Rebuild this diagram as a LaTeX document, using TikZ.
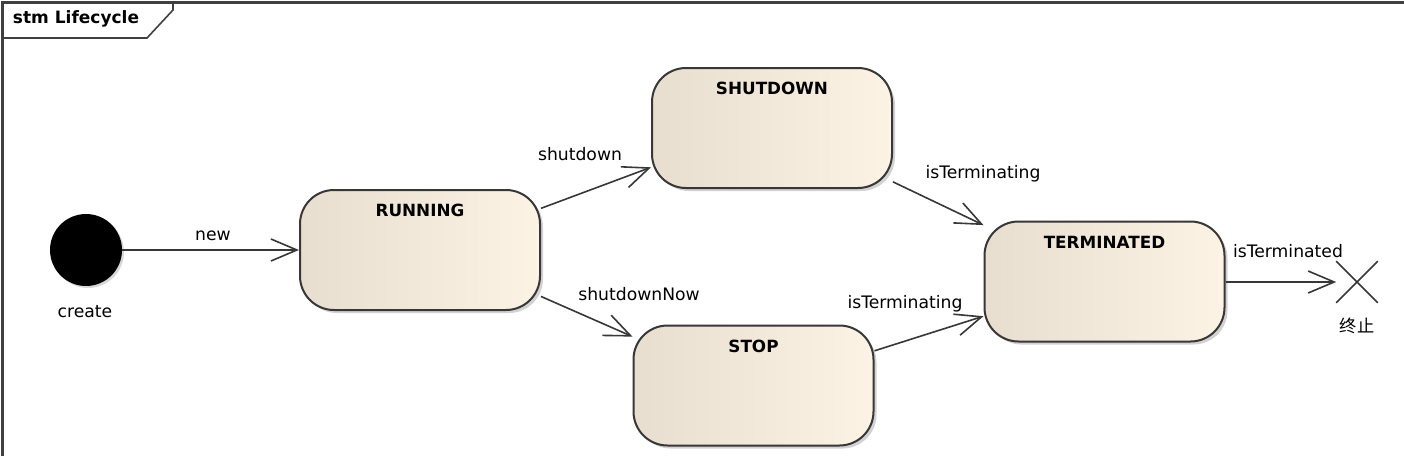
\documentclass[tikz,border=0pt]{standalone}
\usepackage{fontspec}
\setmainfont{DejaVu Sans}
\newfontfamily\cjkfont{Noto Sans CJK SC}
\usetikzlibrary{arrows.meta, shapes.misc, shadows, positioning}

\definecolor{stateleft}{RGB}{232,222,208}
\definecolor{stateright}{RGB}{252,243,229}
\definecolor{lineclr}{RGB}{55,55,55}

\tikzset{
    statebox/.style={rectangle, rounded corners=17pt, draw=lineclr, line width=1pt,
        minimum width=120pt, minimum height=60pt, inner sep=0pt,
        left color=stateleft, right color=stateright,
        drop shadow={shadow xshift=1.5pt, shadow yshift=-1.5pt, fill=black!35, opacity=.5}},
    title/.style={anchor=north, yshift=-4.2pt, font=\fontsize{8.4}{10}\selectfont\bfseries},
    initstate/.style={circle, fill=black, minimum size=36pt, inner sep=0pt,
        drop shadow={shadow xshift=1pt, shadow yshift=-1pt, fill=black!30, opacity=.5}},
    finalstate/.style={cross out, draw=lineclr, line width=0.8pt, minimum size=20pt, inner sep=0pt},
    lbl/.style={font=\fontsize{8.6}{10}\selectfont, text=black, inner sep=0pt},
    trans/.style={draw=lineclr, line width=0.8pt, -{Straight Barb[length=13pt, width=11pt, line width=0.8pt]}},
    frame/.style={draw=black!75, line width=1.2pt}
}

\begin{document}
\begin{tikzpicture}[x=0.5pt, y=-0.5pt]
    \useasboundingbox (0,0) rectangle (1404,456);

    % frame
    \draw[frame] (2.5,456) -- (2.5,2.5) -- (1404,2.5);
    \draw[frame, line width=0.8pt] (2.5,38) -- (147,38) -- (173,10) -- (173,2.5);
    \node[lbl, font=\fontsize{8.5}{10}\selectfont\bfseries] (frametitle) at (76,19) {stm Lifecycle};

    % states
    \node[initstate] (init) at (86,250) {};
    \node[statebox, label={[title]north:RUNNING}] (running) at (420,250) {};
    \node[statebox, label={[title]north:SHUTDOWN}] (shutdown) at (772,128) {};
    \node[statebox, label={[title]north:STOP}] (stop) at (753.5,385.5) {};
    \node[statebox, label={[title]north:TERMINATED}] (term) at (1104.5,281.5) {};
    \node[finalstate] (final) at (1357,282) {};

    % transitions
    \draw[trans] (init) -- (running);
    \draw[trans] (running.19) -- (shutdown.198);
    \draw[trans] (running.-21) -- (stop.158);
    \draw[trans] (shutdown.-24) -- (term.155);
    \draw[trans] (stop.16) -- (term.196);
    \draw[trans] (term.east |- final) -- (final.west);

    % labels
    \node[lbl] (lcreate) at (85,312) {create};
    \node[lbl] (lnew) at (213,236) {new};
    \node[lbl] (lshutdown) at (580,154) {shutdown};
    \node[lbl] (lshutdownnow) at (639,294) {shutdownNow};
    \node[lbl] (lterm1) at (983,174) {isTerminating};
    \node[lbl] (lterm2) at (905,304) {isTerminating};
    \node[lbl] (lterminated) at (1288,251) {isTerminated};
    \node[lbl, font=\fontsize{8.6}{10}\selectfont\cjkfont] (lfinal) at (1357,326) {终止};
\end{tikzpicture}
\end{document}
